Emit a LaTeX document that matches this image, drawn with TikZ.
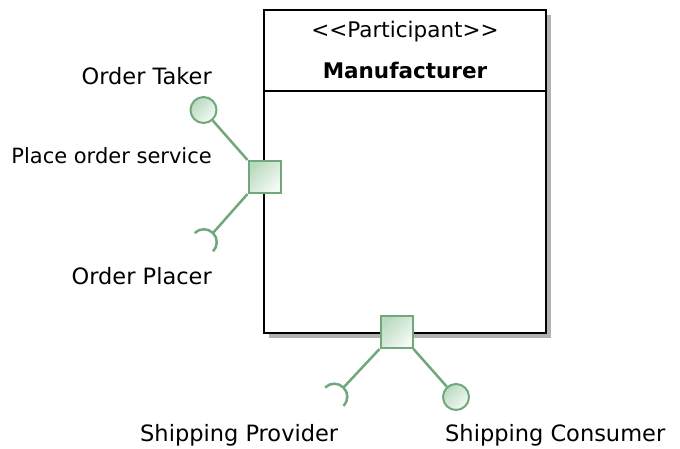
\documentclass[tikz,border=0pt]{standalone}
\usepackage{fontspec}
\setmainfont{DejaVu Sans}
\usetikzlibrary{shadows}

\definecolor{portline}{RGB}{112,168,124}
\definecolor{portdark}{RGB}{186,218,192}
\definecolor{portlight}{RGB}{244,250,245}

\tikzset{
	port/.style={draw=portline, line width=2pt, minimum size=32pt, inner sep=0pt,
		top color=portdark, bottom color=portlight, shading angle=45},
	ball/.style={circle, draw=portline, line width=2pt, minimum size=26pt, inner sep=0pt,
		top color=portdark, bottom color=portlight, shading angle=45},
	link/.style={draw=portline, line width=2.5pt},
	lbl/.style={inner sep=0pt},
}

\begin{document}
\begin{tikzpicture}[x=1pt, y=-1pt, font=\fontsize{22.5}{26}\selectfont]
	\useasboundingbox (0,0) rectangle (680,448);
	% participant box
	\node [draw, line width=2.2pt, minimum width=282pt, minimum height=323pt, fill=white,
		drop shadow={shadow xshift=5pt, shadow yshift=-5pt, fill=black!30, opacity=1}] (mfr) at (405,171.5) {};
	\coordinate (div) at (0,91);
	\draw [line width=2.2pt] (mfr.west |- div) -- (mfr.east |- div);
	\node [lbl, anchor=base, font=\fontsize{21.5}{25}\selectfont] (stereo) at (405,37) {<{}<Participant>{}>};
	\node [lbl, anchor=base, font=\fontsize{21.5}{25}\selectfont\bfseries] (name) at (405,78) {Manufacturer};
	% ports
	\node [port] (portL) at (264.5,177) {};
	\node [port] (portB) at (396.5,332) {};
	\node [ball] (ballL) at (203.5,110) {};
	\node [ball] (ballB) at (456,397) {};
	\coordinate (sockL) at (203.8,242.2);
	\coordinate (sockLtip) at (213,233);
	\coordinate (sockB) at (334.3,396.7);
	\coordinate (sockBtip) at (343.5,387.5);
	\draw [link] (portL.north west) -- (ballL);
	\draw [link] (portL.south west) -- (sockLtip);
	\draw [link] (portB.south east) -- (ballB);
	\draw [link] (portB.south west) -- (sockBtip);
	\draw [link] ([shift={(-135:13)}]sockL) arc [start angle=-135, end angle=45, radius=13];
	\draw [link] ([shift={(-135:13)}]sockB) arc [start angle=-135, end angle=45, radius=13];
	% labels
	\node [lbl, anchor=base east] (taker) at (212,84) {Order Taker};
	\node [lbl, anchor=base east, font=\fontsize{21}{25}\selectfont] (service) at (212,163) {Place order service};
	\node [lbl, anchor=base east] (placer) at (212,284) {Order Placer};
	\node [lbl, anchor=base west] (provider) at (140,441) {Shipping Provider};
	\node [lbl, anchor=base west] (consumer) at (445,441) {Shipping Consumer};
\end{tikzpicture}
\end{document}
